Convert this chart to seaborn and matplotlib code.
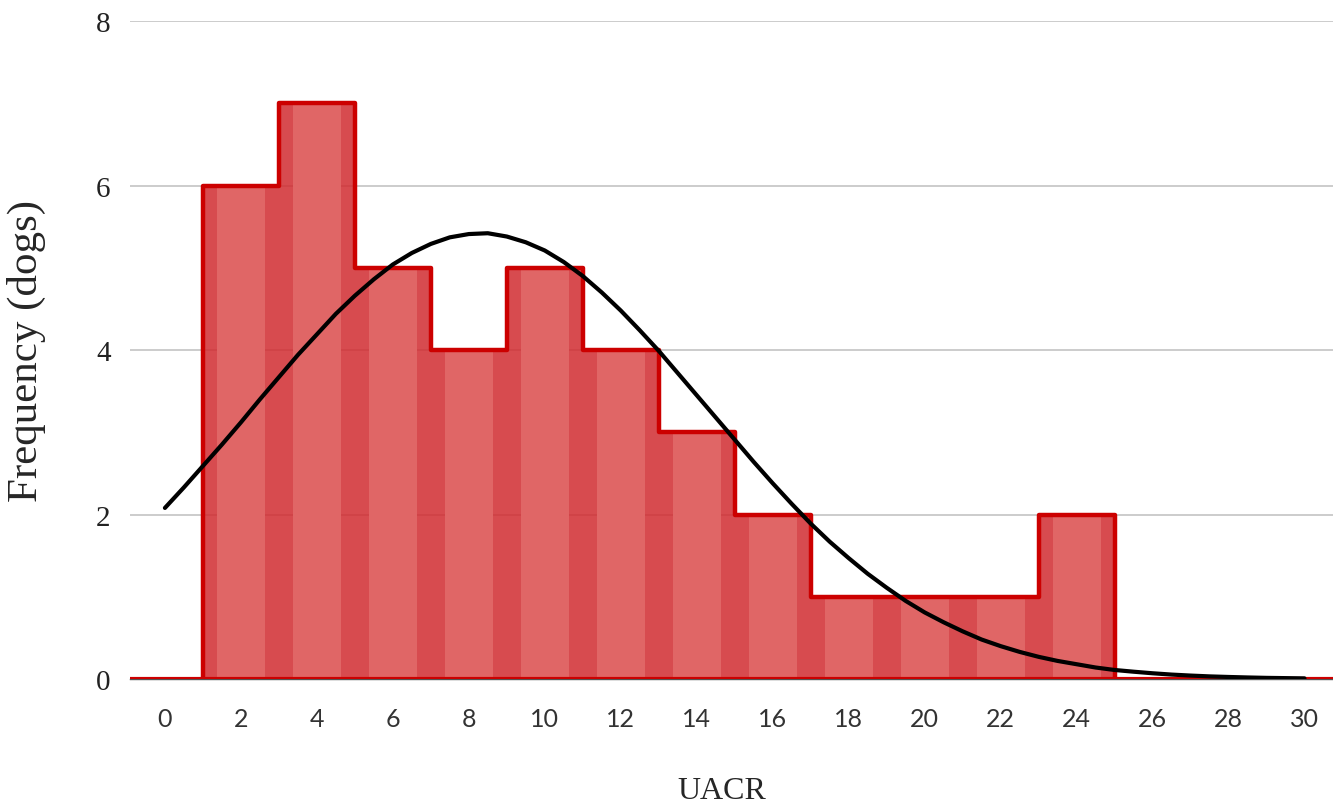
import matplotlib
matplotlib.use("Agg")
import matplotlib.pyplot as plt
import seaborn as sns
import pandas as pd

# histogram bins (UACR) and counts of dogs
bin_edges = [1, 3, 5, 7, 9, 11, 13, 15, 17, 19, 21, 23, 25]
counts = [6, 7, 5, 4, 5, 4, 3, 2, 1, 1, 1, 2]
# lighter column stripes sit on the even ticks inside each bin
stripe_x = [2, 4, 6, 8, 10, 12, 14, 16, 18, 20, 22, 24]

# fitted normal curve, every half unit
curve_x = [0, 0.5, 1, 1.5, 2, 2.5, 3, 3.5, 4, 4.5, 5, 5.5, 6, 6.5, 7, 7.5,
           8, 8.5, 9, 9.5, 10, 10.5, 11, 11.5, 12, 12.5, 13, 13.5, 14, 14.5,
           15, 15.5, 16, 16.5, 17, 17.5, 18, 18.5, 19, 19.5, 20, 20.5, 21,
           21.5, 22, 22.5, 23, 23.5, 24, 24.5, 25, 25.5, 26, 26.5, 27, 27.5,
           28, 28.5, 29, 29.5, 30]
curve_y = [2.08, 2.33, 2.59, 2.85, 3.12, 3.40, 3.67, 3.94, 4.19, 4.44,
           4.66, 4.86, 5.04, 5.18, 5.29, 5.37, 5.41, 5.42, 5.38, 5.31,
           5.21, 5.07, 4.90, 4.70, 4.48, 4.24, 3.99, 3.72, 3.45, 3.18,
           2.91, 2.64, 2.38, 2.13, 1.89, 1.67, 1.47, 1.28, 1.11, 0.95,
           0.81, 0.69, 0.58, 0.48, 0.40, 0.33, 0.27, 0.22, 0.18, 0.14,
           0.11, 0.089, 0.070, 0.054, 0.042, 0.032, 0.025, 0.019, 0.014,
           0.011, 0.008]

x_ticks = list(range(0, 31, 2))
y_ticks = [0, 2, 4, 6, 8]

sns.set_style("white")
plt.rcParams['font.family'] = ['Liberation Serif', 'DejaVu Serif']

fig = plt.figure(figsize=(13.33, 8.04), dpi=100)
ax = fig.add_axes([0.0975, 0.1542, 0.9025, 0.8184])

centers = [(a + b) / 2 for a, b in zip(bin_edges[:-1], bin_edges[1:])]
hist_df = pd.DataFrame({'uacr': centers, 'dogs': counts})

# darker base fill
sns.histplot(data=hist_df, x='uacr', weights='dogs', bins=bin_edges,
             element='step', fill=True, color='#d12b30', alpha=0.85,
             linewidth=0, ax=ax, zorder=2)

# lighter stripes
ax.bar(stripe_x, counts, width=1.26, color='#e06666', linewidth=0, zorder=3)

# red outline
ax.axhline(0, color='#cc0000', lw=3, zorder=4)
ax.stairs(counts, bin_edges, baseline=0, color='#cc0000', lw=3.2,
          joinstyle='round', zorder=5)

# normal curve
sns.lineplot(x=curve_x, y=curve_y, color='black', lw=3.0, ax=ax, zorder=6)

ax.set_xlim(-0.92, 30.75)
ax.set_ylim(0, 8)
ax.set_xticks(x_ticks)
ax.set_xticklabels([str(t) for t in x_ticks], family=['Lato', 'DejaVu Sans'],
                   fontsize=18, color='#333333')
ax.set_yticks(y_ticks)
ax.set_yticklabels([str(t) for t in y_ticks], fontsize=21, color='#222222')
ax.tick_params(axis='x', length=0, pad=20)
ax.tick_params(axis='y', length=0, pad=14)

for t in [2, 4, 6, 8]:
    ax.axhline(t, color='#c8c8c8', lw=1.3, zorder=1)

for s in ['top', 'right', 'left']:
    ax.spines[s].set_visible(False)
ax.spines['bottom'].set_color('#555555')
ax.spines['bottom'].set_linewidth(1)
ax.spines['bottom'].set_zorder(3.5)

ax.set_xlabel('UACR', fontsize=23)
ax.xaxis.set_label_coords(0.492, -0.147)
ax.set_ylabel('Frequency (dogs)', fontsize=31, labelpad=36)

fig.savefig('out.png', dpi=100)
